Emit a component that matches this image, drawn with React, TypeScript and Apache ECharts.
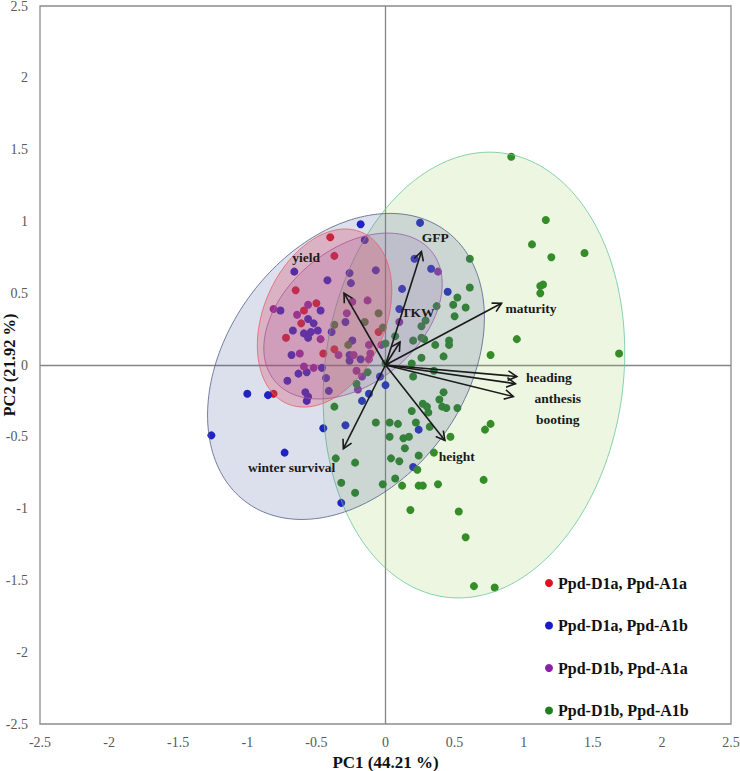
import React, { useEffect, useRef } from "react";
import * as echarts from "echarts";

const groupNames = ["Ppd-D1a, Ppd-A1a", "Ppd-D1a, Ppd-A1b", "Ppd-D1b, Ppd-A1a", "Ppd-D1b, Ppd-A1b"];
const groupColors = ["#e0101e", "#1a1acc", "#8c1fa8", "#1f7f1f"];

// PC1, PC2 scores per group
const d1aA1a: number[][] = [
  [-0.40, 0.89], [-0.37, 0.76], [-0.65, 0.52], [-0.50, 0.43], [-0.59, 0.38], [-0.61, 0.29],
  [-0.72, 0.19], [-0.45, 0.08], [-0.37, 0.11], [-0.05, 0.23], [-0.81, -0.20],
];
const d1aA1b: number[][] = [
  [-0.18, 0.98], [-0.15, 0.87], [-0.66, 0.65], [-0.42, 0.59], [-0.26, 0.64], [-0.25, 0.57],
  [-0.07, 0.66], [-0.76, 0.38], [-0.47, 0.38], [-0.56, 0.32], [-0.52, 0.29], [-0.67, 0.24],
  [-0.59, 0.22], [-0.54, 0.23], [-0.49, 0.24], [-0.56, 0.19], [-0.39, 0.23], [-0.29, 0.30],
  [-0.24, 0.17], [-0.68, 0.07], [-0.26, 0.07], [-0.18, 0.04], [-0.26, 0.03], [-0.46, -0.02],
  [-0.63, -0.06], [-0.57, -0.05], [-0.71, -0.11], [-0.43, -0.09], [-0.04, -0.08], [0.00, -0.14],
  [0.12, 0.53], [0.25, 0.99], [0.21, 0.74], [0.33, 0.67], [0.45, 0.51], [0.10, 0.39],
  [-1.00, -0.20], [-0.85, -0.21], [-1.26, -0.49], [-0.73, -0.61], [-0.45, -0.44], [-0.29, -0.42],
  [-0.32, -0.96], [-0.58, -0.19], [-0.56, -0.22], [-0.57, -0.25], [-0.41, -0.18], [-0.12, -0.20],
  [-0.17, -0.25], [0.24, -0.45], [0.20, -0.71],
];
const d1bA1a: number[][] = [
  [-0.81, 0.39], [-0.64, 0.35], [-0.56, 0.42], [-0.47, 0.18], [-0.62, 0.08], [-0.59, -0.01],
  [-0.52, -0.02], [-0.34, 0.07], [-0.24, 0.44], [-0.13, 0.45], [-0.28, 0.36], [-0.12, 0.14],
  [-0.11, 0.08], [-0.12, 0.04], [-0.21, -0.04], [-0.17, -0.08], [-0.20, -0.17], [-0.03, 0.14],
  [0.10, 0.30], [0.38, 0.65], [-0.23, 0.07],
];
const d1bA1b: number[][] = [
  [-0.37, 0.28], [-0.27, 0.14], [-0.15, 0.30], [-0.05, 0.36], [-0.02, 0.26], [-0.13, -0.05],
  [0.00, 0.15], [-0.21, -0.13], [-0.37, -0.29], [-0.36, -0.65], [-0.22, -0.68], [-0.32, -0.82],
  [-0.22, -0.89], [-0.07, -0.40], [0.03, -0.40], [0.09, -0.41], [0.03, -0.50], [0.13, -0.51],
  [0.17, -0.50], [0.14, -0.58], [0.04, -0.65], [0.10, -0.67], [0.24, -0.63], [0.07, -0.79],
  [-0.02, -0.83], [0.12, -0.84], [0.24, -0.84], [0.27, -0.84], [0.38, -0.83], [0.18, -1.01],
  [0.23, -0.73], [0.35, -0.61], [0.47, -0.50], [0.19, -0.32], [0.22, -0.40], [0.32, -0.43],
  [0.27, -0.27], [0.30, -0.29], [0.31, -0.33], [0.41, -0.29], [0.44, -0.30], [0.52, -0.30],
  [0.39, -0.24], [0.42, -0.19], [0.19, 0.01], [0.20, -0.08], [0.35, -0.04], [0.42, 0.06],
  [0.26, 0.05], [0.36, 0.14], [0.46, 0.17], [0.46, 0.14], [0.20, 0.17], [0.26, 0.19],
  [0.28, 0.18], [0.26, 0.27], [0.29, 0.31], [0.37, 0.41], [0.49, 0.42], [0.50, 0.34],
  [0.58, 0.40], [0.52, 0.47], [0.61, 0.54], [0.61, 0.74], [0.07, 0.20], [0.00, 0.01],
  [0.95, 0.18], [0.76, 0.07], [1.69, 0.08], [0.91, 1.45], [1.16, 1.01], [1.06, 0.84],
  [1.20, 0.75], [1.44, 0.78], [1.12, 0.55], [1.14, 0.56], [1.12, 0.50], [0.72, -0.45],
  [0.76, -0.41], [0.71, -0.80], [0.53, -1.02], [0.58, -1.20], [0.64, -1.54], [0.79, -1.55],
];
const groupData = [d1aA1a, d1aA1b, d1bA1a, d1bA1b];

// trait loadings (arrow tips) and label anchors
const traitNames = ["yield", "GFP", "TKW", "maturity", "heading", "anthesis", "booting", "height", "winter survival"];
const loadingPC1 = [-0.30, 0.26, 0.105, 0.84, 0.95, 0.94, 0.925, 0.43, -0.305];
const loadingPC2 = [0.50, 0.79, 0.16, 0.43, -0.08, -0.13, -0.22, -0.525, -0.583];
const labelPC1 = [-0.575, 0.36, 0.235, 1.053, 1.183, 1.246, 1.246, 0.515, -0.679];
const labelPC2 = [0.747, 0.886, 0.367, 0.393, -0.089, -0.231, -0.381, -0.636, -0.711];

// confidence ellipses: green (D1b,A1b), blue (D1a,A1b), purple (D1b,A1a), red (D1a,A1a)
const ellipseCenterX = [0.64, -0.286, -0.235, -0.441];
const ellipseCenterY = [-0.07, -0.01, 0.341, 0.327];
const ellipseSemiMajor = [1.56, 1.19, 0.725, 0.655];
const ellipseSemiMinor = [1.08, 0.85, 0.474, 0.438];
const ellipseAngleDeg = [82, 50.5, 37, 64.3];

const ellipseFill = ["rgba(150,205,90,0.18)", "rgba(60,80,150,0.18)", "rgba(140,90,175,0.2)", "rgba(220,60,90,0.28)"];
const ellipseStroke = ["#6cc79a", "#56608c", "#9a5aa8", "#e2606e"];

const SERIF = '"Liberation Serif", "Times New Roman", "DejaVu Serif", serif';

export default function App() {
  const ref = useRef<HTMLDivElement>(null);
  useEffect(() => {
    if (!ref.current) return;
    const chart = echarts.init(ref.current, undefined, { renderer: "svg" });

    const scatterSeries = groupNames.map((name, gi) => ({
      name,
      type: "scatter",
      data: groupData[gi],
      symbolSize: 8,
      itemStyle: { color: groupColors[gi], opacity: 1 },
      z: 2,
      ...(gi === 0
        ? {
            markLine: {
              silent: true,
              symbol: ["none", "none"],
              label: { show: false },
              lineStyle: { color: "#858585", width: 1.3, type: "solid" },
              data: [{ xAxis: 0 }, { yAxis: 0 }],
              z: 1,
            },
          }
        : {}),
    }));

    const ellipseSeries = {
      type: "custom",
      name: "ellipses",
      z: 3,
      silent: true,
      data: ellipseCenterX.map((cx, i) => [cx, ellipseCenterY[i]]),
      encode: { x: 0, y: 1 },
      renderItem: (params: any, api: any) => {
        const i = params.dataIndex;
        const c = api.coord([api.value(0), api.value(1)]);
        const s = api.size([1, 1]);
        const th = (ellipseAngleDeg[i] * Math.PI) / 180;
        const a = ellipseSemiMajor[i];
        const b = ellipseSemiMinor[i];
        const pts: number[][] = [];
        const N = 200;
        for (let k = 0; k < N; k++) {
          const t = (k / N) * Math.PI * 2;
          const dx = a * Math.cos(th) * Math.cos(t) - b * Math.sin(th) * Math.sin(t);
          const dy = a * Math.sin(th) * Math.cos(t) + b * Math.cos(th) * Math.sin(t);
          pts.push([c[0] + dx * s[0], c[1] - dy * s[1]]);
        }
        return {
          type: "polygon",
          shape: { points: pts },
          style: { fill: ellipseFill[i], stroke: ellipseStroke[i], lineWidth: 0.8 },
        };
      },
    };

    const arrowSeries = {
      type: "custom",
      name: "loadings",
      z: 5,
      silent: true,
      data: loadingPC1.map((x, i) => [x, loadingPC2[i]]),
      encode: { x: 0, y: 1 },
      renderItem: (params: any, api: any) => {
        const i = params.dataIndex;
        const o = api.coord([0, 0]);
        const tip = api.coord([api.value(0), api.value(1)]);
        const ang = Math.atan2(tip[1] - o[1], tip[0] - o[0]);
        const L = 10;
        const h = 0.5;
        const p1 = [tip[0] - L * Math.cos(ang - h), tip[1] - L * Math.sin(ang - h)];
        const p2 = [tip[0] - L * Math.cos(ang + h), tip[1] - L * Math.sin(ang + h)];
        const lp = api.coord([labelPC1[i], labelPC2[i]]);
        return {
          type: "group",
          children: [
            {
              type: "line",
              shape: { x1: o[0], y1: o[1], x2: tip[0], y2: tip[1] },
              style: { stroke: "#1a1a1a", lineWidth: 1.6 },
            },
            {
              type: "polyline",
              shape: { points: [p1, tip, p2] },
              style: { stroke: "#1a1a1a", lineWidth: 1.6, fill: "none" },
            },
            {
              type: "text",
              style: {
                text: traitNames[i],
                x: lp[0],
                y: lp[1],
                align: "center",
                verticalAlign: "middle",
                textAlign: "center",
                textVerticalAlign: "middle",
                fill: "#1a1a1a",
                fontSize: 13.5,
                fontWeight: "bold",
                fontFamily: SERIF,
              },
            },
          ],
        };
      },
    };

    const axisLabel = { color: "#595959", fontSize: 14, fontFamily: SERIF };

    chart.setOption({
      animation: false,
      backgroundColor: "#ffffff",
      grid: {
        left: 40,
        right: 9,
        top: 6,
        bottom: 47,
        containLabel: false,
        outerBoundsMode: "none",
        show: true,
        borderColor: "#8c8c8c",
        borderWidth: 1.3,
        backgroundColor: "transparent",
      },
      xAxis: {
        type: "value",
        min: -2.5,
        max: 2.5,
        interval: 0.5,
        position: "bottom",
        axisLine: { show: false, onZero: false },
        axisTick: { show: false },
        splitLine: { show: false },
        axisLabel: { ...axisLabel, margin: 11 },
        name: "PC1 (44.21 %)",
        nameLocation: "middle",
        nameGap: 30,
        nameMoveOverlap: false,
        nameTextStyle: { color: "#111", fontSize: 17, fontWeight: "bold", fontFamily: SERIF },
      },
      yAxis: {
        type: "value",
        min: -2.5,
        max: 2.5,
        interval: 0.5,
        position: "left",
        axisLine: { show: false, onZero: false },
        axisTick: { show: false },
        splitLine: { show: false },
        axisLabel: { ...axisLabel, margin: 12 },
        name: "PC2 (21.92 %)",
        nameLocation: "middle",
        nameGap: 22,
        nameMoveOverlap: false,
        nameTextStyle: { color: "#111", fontSize: 16.5, fontWeight: "bold", fontFamily: SERIF },
      },
      legend: {
        data: groupNames,
        orient: "vertical",
        left: 540,
        top: 569,
        icon: "circle",
        itemWidth: 8,
        itemHeight: 8,
        itemGap: 24.5,
        textStyle: { color: "#111", fontSize: 16, fontWeight: "bold", fontFamily: SERIF, lineHeight: 18 },
        selectedMode: false,
      },
      series: [...scatterSeries, ellipseSeries, arrowSeries],
    });

    return () => {
      chart.dispose();
    };
  }, []);

  return <div ref={ref} style={{ position: "fixed", left: 0, top: 0, width: 740, height: 771 }} />;
}
